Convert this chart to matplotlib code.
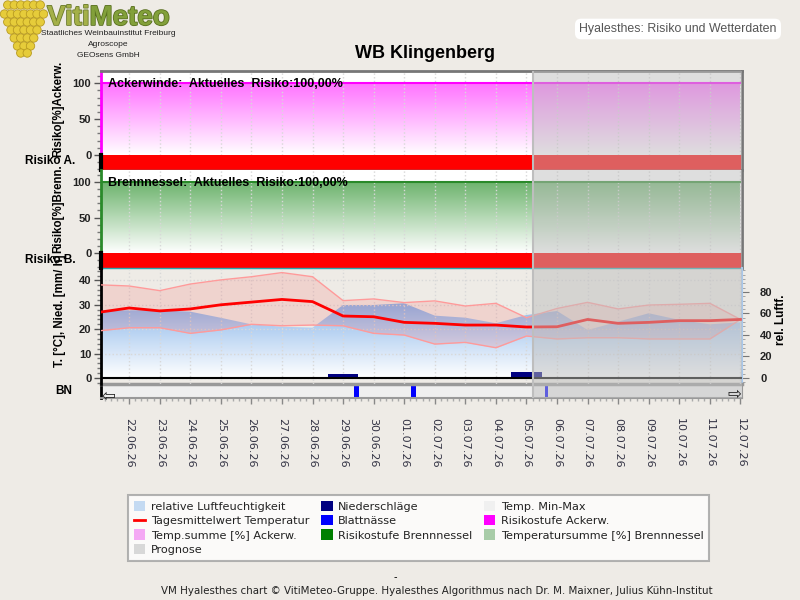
import numpy as np
import matplotlib
matplotlib.use("Agg")
import matplotlib.pyplot as plt
import matplotlib.patheffects as pe
from matplotlib.patches import Patch, Circle
from matplotlib.lines import Line2D
from matplotlib.ticker import MultipleLocator, FixedLocator

# ---------------- data ----------------
date_labels = ["22.06.26", "23.06.26", "24.06.26", "25.06.26", "26.06.26", "27.06.26",
               "28.06.26", "29.06.26", "30.06.26", "01.07.26", "02.07.26", "03.07.26",
               "04.07.26", "05.07.26", "06.07.26", "07.07.26", "08.07.26", "09.07.26",
               "10.07.26", "11.07.26", "12.07.26"]
# daily values, day 0 = 22.06.26, day -1 = 21.06.26
days = [-1, 0, 1, 2, 3, 4, 5, 6, 7, 8, 9, 10, 11, 12, 13, 14, 15, 16, 17, 18, 19, 20]
t_mean = [26.9, 28.7, 27.5, 28.3, 30.0, 31.1, 32.2, 31.3, 25.4, 25.1, 22.8,
          22.4, 21.7, 21.7, 20.9, 21.0, 24.0, 22.4, 22.8, 23.5, 23.5, 24.0]
t_max = [38.2, 37.7, 35.8, 38.5, 40.2, 41.5, 43.2, 41.5, 31.7, 32.4, 30.9,
         31.6, 29.5, 30.6, 24.7, 28.5, 31.0, 28.3, 29.9, 30.2, 30.6, 24.0]
t_min = [19.3, 20.6, 20.6, 18.3, 19.7, 22.0, 21.4, 21.7, 21.4, 18.3, 17.6,
         13.9, 14.6, 12.4, 17.2, 16.0, 16.5, 16.5, 16.0, 16.0, 16.0, 24.0]
rel_hum = [62.6, 63.0, 63.0, 61.7, 56.0, 49.9, 47.7, 46.8, 67.9, 67.9, 69.5,
           58.0, 56.1, 50.9, 58.6, 62.3, 44.6, 52.4, 60.2, 54.0, 49.9, 51.8]
precip = [0, 0, 0, 0, 0, 0, 0, 0, 1.6, 0, 0, 0, 0, 0, 2.6, 0, 0, 0, 0, 0, 0, 0]
drizzle = [0, 0, 0, 0, 0, 0, 0, 0, 0.25, 0, 0.25, 0, 0, 0, 0.25, 0, 0, 0, 0, 0, 0, 0]
tsum_acker = [100, 100, 100, 100, 100, 100, 100, 100, 100, 100, 100,
              100, 100, 100, 100, 100, 100, 100, 100, 100, 100, 100]
tsum_brenn = [100, 100, 100, 100, 100, 100, 100, 100, 100, 100, 100,
              100, 100, 100, 100, 100, 100, 100, 100, 100, 100, 100]
risk_acker = [3, 3, 3, 3, 3, 3, 3, 3, 3, 3, 3, 3, 3, 3, 3, 3, 3, 3, 3, 3, 3, 3]
risk_brenn = [3, 3, 3, 3, 3, 3, 3, 3, 3, 3, 3, 3, 3, 3, 3, 3, 3, 3, 3, 3, 3, 3]
# leaf wetness: start (days) and duration (hours)
bn_start = [7.37, 9.23, 13.62]
bn_hours = [4.0, 4.0, 2.2]
prognose_start = 13.22
risk_text_a = "Ackerwinde:  Aktuelles  Risiko:100,00%"
risk_text_b = "Brennnessel:  Aktuelles  Risiko:100,00%"

risk_colors = {1: "#00C000", 2: "#FFD000", 3: "#FF0000"}
BG = "#EEEBE6"
ARIAL = "Liberation Sans"
XLIM = (-0.92, 20.05)


def fx(px):
    return px / 800.0


def fy(py):
    return 1 - py / 600.0


def px_axes(x0, y0, x1, y1):
    return fig.add_axes([fx(x0), fy(y1), (x1 - x0) / 800.0, (y1 - y0) / 600.0])


def gradient_area(ax, x, y, rgb, y0=0.0, zorder=1):
    area = ax.fill_between(x, y0, y, facecolor="none", edgecolor="none", zorder=zorder)
    frac = np.linspace(0, 1, 256)
    img = np.ones((256, 1, 3))
    for k in range(3):
        img[:, 0, k] = 1 - frac * (1 - rgb[k])
    im = ax.imshow(img, extent=[min(x), max(x), y0, max(y)], origin="lower",
                   aspect="auto", zorder=zorder, interpolation="bilinear")
    im.set_clip_path(area.get_paths()[0], transform=ax.transData)


def style_left(ax, major, minor):
    ax.yaxis.set_major_locator(FixedLocator(major))
    ax.yaxis.set_minor_locator(MultipleLocator(minor))
    ax.tick_params(axis="y", which="major", length=5, width=1, color="#555", pad=2,
                   labelsize=8, labelcolor="#222")
    ax.tick_params(axis="y", which="minor", length=3, width=1, color="#777")
    for lab in ax.get_yticklabels():
        lab.set_fontfamily(ARIAL)
        lab.set_fontweight("bold")
    ax.set_xticks(range(0, 21))
    ax.tick_params(axis="x", which="both", length=0, labelbottom=False)
    ax.grid(axis="x", color="#D8D8D8", linestyle=":", linewidth=1)


fig = plt.figure(figsize=(8, 6), dpi=100, facecolor=BG)

ax1 = px_axes(101, 71, 742, 170)
ax2 = px_axes(101, 170, 742, 268)
ax3 = px_axes(101, 268, 742, 384)
ax3r = ax3.twinx()
axbn = px_axes(101, 384, 742, 398)

# ---------------- risk panels ----------------
for ax, tsum, risk, col, grad, txt in [
        (ax1, tsum_acker, risk_acker, "#FF00FF", (1.0, 0.45, 1.0), risk_text_a),
        (ax2, tsum_brenn, risk_brenn, "#2A8A2A", (0.42, 0.70, 0.42), risk_text_b)]:
    ax.set_facecolor("white")
    gradient_area(ax, days, tsum, grad, 0, zorder=1)
    ax.plot(days, tsum, color=col, lw=1.5, zorder=2)
    ax.bar(days, [21] * len(days), bottom=-21, width=1.0,
           color=[risk_colors[r] for r in risk], lw=0, zorder=2)
    ax.set_xlim(*XLIM)
    ax.set_ylim(-21, 117)
    style_left(ax, [0, 50, 100], 10)
    ax.spines["left"].set_bounds(0, 117)
    ax.spines["left"].set_color(col)
    ax.spines["left"].set_linewidth(2)
    ax.axvline(XLIM[0], ymin=0, ymax=21 / 138, color="black", lw=3, zorder=5, clip_on=False)
    ax.spines["bottom"].set_color("#2AA8B0")
    ax.spines["bottom"].set_linewidth(1)
    ax.spines["top"].set_color("#777")
    ax.spines["top"].set_linewidth(2)
    ax.spines["right"].set_color("#777")
    ax.spines["right"].set_linewidth(2)
    ax.text(0.011, 0.87, txt, transform=ax.transAxes, fontsize=9, fontweight="bold",
            family=ARIAL, va="center", ha="left", zorder=6)
ax2.spines["top"].set_visible(False)

# ---------------- weather panel ----------------
ax3.set_zorder(ax3r.get_zorder() + 1)
ax3.patch.set_visible(False)
ax3r.set_facecolor("white")

gradient_area(ax3r, days, rel_hum, (0.55, 0.72, 0.92), 0, zorder=1)
ax3r.set_ylim(-5.58, 102.3)
ax3r.set_xlim(*XLIM)

ax3.fill_between(days, t_min, t_max, color=(1, 0, 0, 0.10), lw=0, zorder=2)
ax3.plot(days, t_max, color="#FF9A9A", lw=1, zorder=3)
ax3.plot(days, t_min, color="#FF9A9A", lw=1, zorder=3)
ax3.bar(days, precip, width=1.0, color="#000080", lw=0, zorder=4)
ax3.bar(days, drizzle, width=1.0, color="#FFFF70", lw=0, zorder=4)
ax3.plot(days, t_mean, color="#FF0000", lw=2, zorder=5)
ax3.axhline(0, color="black", lw=1.5, zorder=6)
ax3.set_xlim(*XLIM)
ax3.set_ylim(-2.46, 45.08)
style_left(ax3, [0, 10, 20, 30, 40], 2)
ax3.grid(axis="y", color="#D8D8D8", linestyle=":", linewidth=1)
for s in ["top", "bottom", "right"]:
    ax3.spines[s].set_visible(False)
ax3.spines["left"].set_linewidth(2)
ax3.spines["left"].set_color("black")

for s in ["top", "bottom", "left"]:
    ax3r.spines[s].set_visible(False)
ax3r.spines["right"].set_color("#A8C8EC")
ax3r.spines["right"].set_linewidth(1.5)
ax3r.yaxis.set_major_locator(FixedLocator([0, 20, 40, 60, 80]))
ax3r.yaxis.set_minor_locator(MultipleLocator(4))
ax3r.tick_params(axis="y", which="major", length=5, color="#777", pad=8,
                 labelsize=8, labelcolor="#222")
ax3r.tick_params(axis="y", which="minor", length=2, color="#999")
for lab in ax3r.get_yticklabels():
    lab.set_fontfamily(ARIAL)
    lab.set_fontweight("bold")

# ---------------- leaf wetness strip ----------------
axbn.set_facecolor("#EFEFEF")
axbn.bar(bn_start, [1] * len(bn_start), width=[h / 24 for h in bn_hours],
         align="edge", color="#0000FF", lw=0, zorder=2)
axbn.set_xlim(*XLIM)
axbn.set_ylim(0, 1)
axbn.set_yticks([])
axbn.set_xticks(range(0, 21))
axbn.set_xticklabels(date_labels, rotation=270, fontsize=8, color="#333344",
                     family="DejaVu Sans")
axbn.xaxis.set_minor_locator(MultipleLocator(0.2))
axbn.tick_params(axis="x", which="major", length=4, width=1, color="#888", pad=10.5)
axbn.tick_params(axis="x", which="minor", length=2, width=1, color="#AAA")
for lab in axbn.get_xticklabels():
    lab.set_verticalalignment("top")
    lab.set_horizontalalignment("center")
axbn.spines["top"].set_color("#999")
axbn.spines["top"].set_linewidth(2.5)
axbn.spines["bottom"].set_color("#999")
axbn.spines["bottom"].set_linewidth(1.5)
axbn.spines["left"].set_color("black")
axbn.spines["left"].set_linewidth(2)
axbn.spines["right"].set_color("#999")

# ---------------- forecast overlay ----------------
for ax in (ax1, ax2, ax3, axbn):
    ax.axvspan(prognose_start, XLIM[1], color=(0.745, 0.745, 0.745), alpha=0.5,
               lw=0, zorder=20)
    ax.axvline(prognose_start, color="#BEBEBE", lw=1.5, zorder=21)

# ---------------- labels ----------------
fig.text(0.531, fy(53), "WB Klingenberg", ha="center", va="center", fontsize=13,
         fontweight="bold", family=ARIAL)
fig.text(fx(678), fy(29), "Hyalesthes: Risiko und Wetterdaten", ha="center",
         va="center", fontsize=8.9, color="#555", family=ARIAL,
         bbox=dict(boxstyle="round,pad=0.35,rounding_size=0.5", fc="white", ec="none"))

bold = dict(fontweight="bold", family=ARIAL, fontsize=8.3, rotation=90,
            ha="center", va="bottom")
fig.text(fx(58), fy(157), "Risiko[%]Ackerw.", **bold)
fig.text(fx(58), fy(253), "Risiko[%]Brenn.", **bold)
fig.text(fx(60), fy(367), "T. [°C], Nied. [mm/ h]", **bold)
fig.text(fx(781), fy(320), "rel. Luftf.", fontweight="bold", family=ARIAL,
         fontsize=8.5, rotation=90, ha="center", va="center")
fig.text(fx(25), fy(161), "Risiko A.", fontweight="bold", family=ARIAL, fontsize=8.5,
         va="center")
fig.text(fx(25), fy(260), "Risiko B.", fontweight="bold", family=ARIAL, fontsize=8.5,
         va="center")
fig.text(fx(55), fy(391), "BN", fontweight="bold", family=ARIAL, fontsize=8.5,
         va="center")
fig.text(fx(108), fy(396), "\u21E6", fontsize=12, color="#222", ha="center",
         va="center", family="DejaVu Sans")
fig.text(fx(734), fy(394), "\u21E8", fontsize=12, color="#222", ha="center",
         va="center", family="DejaVu Sans")

# ---------------- logo ----------------
t1 = fig.text(fx(47), fy(25), "Viti", fontsize=20, fontweight="bold", family=ARIAL,
              color="#A4B048", va="baseline",
              path_effects=[pe.withStroke(linewidth=1.2, foreground="#6A7A2A")])
t2 = fig.text(fx(90), fy(25), "Meteo", fontsize=20, fontweight="bold", family=ARIAL,
              color="#82A03A", va="baseline",
              path_effects=[pe.withStroke(linewidth=1.2, foreground="#5A7020")])
for ln, yy in [("Staatliches Weinbauinstitut Freiburg", 33.5),
               ("Agroscope", 44.5), ("GEOsens GmbH", 55.5)]:
    fig.text(fx(108), fy(yy), ln, fontsize=6, family=ARIAL, ha="center",
             va="center", color="#222")

axlogo = px_axes(0, 0, 48, 62)
axlogo.set_xlim(0, 48)
axlogo.set_ylim(62, 0)
axlogo.axis("off")
rows = [(6, 5), (7, 14), (6, 22), (5, 30), (4, 38), (3, 46), (2, 53)]
for n, yc in rows:
    for i in range(n):
        xc = 24 + (i - (n - 1) / 2) * 6.5
        axlogo.add_patch(Circle((xc, yc), 4.2, fc="#E6CC3A", ec="#B89A20", lw=0.6))

# ---------------- legend ----------------
handles = [
    Patch(fc="#C4DAF2", ec="none"),
    Line2D([], [], color="#FF0000", lw=2),
    Patch(fc="#F4A8F4", ec="none"),
    Patch(fc="#D8D8D8", ec="none"),
    Patch(fc="#000080", ec="none"),
    Patch(fc="#0000FF", ec="none"),
    Patch(fc="#008000", ec="none"),
    Patch(fc="#F0F0F0", ec="none"),
    Patch(fc="#FF00FF", ec="none"),
    Patch(fc="#A8CCA8", ec="none"),
]
labels = ["relative Luftfeuchtigkeit", "Tagesmittelwert Temperatur",
          "Temp.summe [%] Ackerw.", "Prognose",
          "Niederschläge", "Blattnässe", "Risikostufe Brennnessel",
          "Temp. Min-Max", "Risikostufe Ackerw.", "Temperatursumme [%] Brennnessel"]
leg = fig.legend(handles, labels, ncol=3, loc="upper left",
                 bbox_to_anchor=(fx(128), fy(495)), borderaxespad=0,
                 prop={"family": "DejaVu Sans", "size": 8.1}, handlelength=1.05,
                 handleheight=1.05, handletextpad=0.5, columnspacing=1.0,
                 labelspacing=0.3, borderpad=0.5, frameon=True, fancybox=False)
leg.get_frame().set_edgecolor("#A0A0A0")
leg.get_frame().set_linewidth(1.5)
for t in leg.get_texts():
    t.set_color("#222")

fig.text(fx(395), fy(577), "-", fontsize=7, ha="center", va="center")
fig.text(fx(437), fy(591), "VM Hyalesthes chart \u00A9 VitiMeteo-Gruppe. Hyalesthes "
         "Algorithmus nach Dr. M. Maixner, Julius K\u00FChn-Institut",
         fontsize=7.35, ha="center", va="center", family="DejaVu Sans", color="#222")

# place "Meteo" right after "Viti"
fig.canvas.draw()
bb = t1.get_window_extent()
t2.set_position((bb.x1 / fig.bbox.width, fy(25)))

fig.savefig("out.png", dpi=100, facecolor=BG)
